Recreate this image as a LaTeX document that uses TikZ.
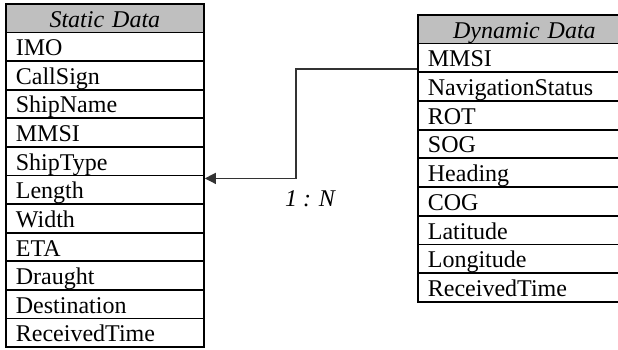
\documentclass[tikz,border=0pt]{standalone}
\usepackage{fontspec}
\setmainfont{Liberation Serif}
\usetikzlibrary{arrows.meta}
\begin{document}
\begin{tikzpicture}[x=1pt,y=-1pt,
  cell/.style={draw=black,line width=1.8pt,anchor=north west,minimum height=28.6pt,
    inner xsep=10pt,inner ysep=0pt,text height=20pt,text depth=2pt,
    font=\fontsize{24}{27}\selectfont},
  lcell/.style={cell,text width=178pt,align=left},
  rcell/.style={cell,text width=230pt,align=left},
  lhead/.style={lcell,fill=gray!50,align=center,font=\fontsize{24}{27}\selectfont\itshape},
  rhead/.style={cell,text width=193pt,fill=gray!50,align=center,font=\fontsize{24}{27}\selectfont\itshape},
  rheadbg/.style={cell,text width=230pt,fill=gray!50},
  conn/.style={draw=black!80,line width=1.2pt,-{Triangle[length=11pt,width=11pt]}},
  lbl/.style={font=\fontsize{24}{27}\selectfont\itshape,inner sep=0pt}]
\useasboundingbox (0,0) rectangle (618,350);
\begin{scope}
\clip (0,0) rectangle (618,350);
% static table
\node[lhead] (s0) at (5,3) {Static Data};
\foreach \t [count=\i] in {IMO,CallSign,ShipName,MMSI,ShipType,Length,Width,ETA,Draught,Destination,ReceivedTime}
  \node[lcell] (s\i) at (5,{3+\i*28.6}) {\t};
% dynamic table
\node[rheadbg] (d0bg) at (417,14) {};
\node[rhead,draw=none,fill=none] (d0) at (417,14) {Dynamic Data};
\foreach \t [count=\i] in {MMSI,NavigationStatus,ROT,SOG,Heading,COG,Latitude,Longitude,ReceivedTime}
  \node[rcell] (d\i) at (417,{14+\i*28.7}) {\t};
% connector
\draw[conn] ([yshift=4pt]d1.south west) -- ++(-121,0) |- ([yshift=-2pt]s5.south east);
\node[lbl] (card) at (310,199) {1 : N};
\end{scope}
\end{tikzpicture}
\end{document}
